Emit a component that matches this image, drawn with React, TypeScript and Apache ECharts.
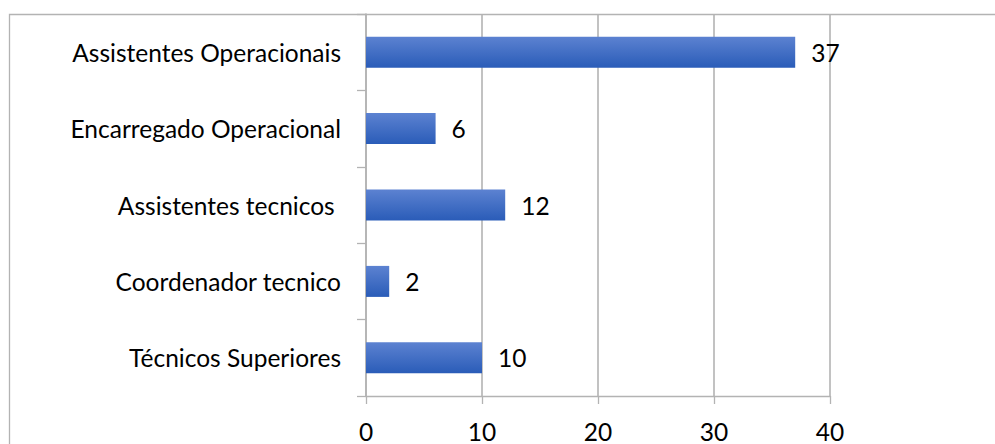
import React, { useEffect, useRef } from "react";
import * as echarts from "echarts";

const categories = [
  "Técnicos Superiores",
  "Coordenador tecnico",
  "Assistentes tecnicos ",
  "Encarregado Operacional",
  "Assistentes Operacionais",
];
const values = [10, 2, 12, 6, 37];
const xTicks = { min: 0, max: 40, interval: 10 };

const FONT = "Lato";
const FS = 24.5;
const GRAY = "#b3b3b3";

export default function App() {
  const ref = useRef<HTMLDivElement>(null);
  useEffect(() => {
    if (!ref.current) return;
    const chart = echarts.init(ref.current, undefined, { renderer: "svg" });
    chart.setOption({
      animation: false,
      backgroundColor: "#ffffff",
      graphic: [
        {
          type: "rect",
          shape: { x: 9.5, y: 14.5, width: 1100, height: 600 },
          style: { fill: "none", stroke: GRAY, lineWidth: 1.3 },
          silent: true,
          z: -1,
        },
      ],
      grid: { left: 366, right: 165, top: 14, bottom: 46, containLabel: false },
      xAxis: {
        type: "value",
        min: xTicks.min,
        max: xTicks.max,
        interval: xTicks.interval,
        axisLine: { show: true, lineStyle: { color: GRAY, width: 1.3 } },
        axisTick: { show: true, length: 8, lineStyle: { color: GRAY, width: 1.3 } },
        splitLine: { show: true, lineStyle: { color: GRAY, width: 1.6 } },
        axisLabel: {
          margin: 23,
          fontFamily: FONT,
          fontSize: FS,
          color: "#000",
        },
      },
      yAxis: {
        type: "category",
        data: categories,
        axisLine: { show: true, lineStyle: { color: GRAY, width: 1.6 } },
        axisTick: { show: true, length: 9, lineStyle: { color: GRAY, width: 1.3 } },
        axisLabel: {
          margin: 25,
          fontFamily: FONT,
          fontSize: FS,
          color: "#000",
        },
      },
      series: [
        {
          type: "bar",
          data: values,
          barWidth: 31,
          itemStyle: {
            color: new echarts.graphic.LinearGradient(0, 0, 0, 1, [
              { offset: 0, color: "#5c82d1" },
              { offset: 1, color: "#2a5cb8" },
            ]),
          },
          label: {
            show: true,
            position: "right",
            distance: 16,
            fontFamily: FONT,
            fontSize: FS,
            color: "#000",
          },
        },
      ],
    });
    return () => chart.dispose();
  }, []);
  return (
    <div
      ref={ref}
      style={{ position: "fixed", left: 0, top: 0, width: 995, height: 444 }}
    />
  );
}
